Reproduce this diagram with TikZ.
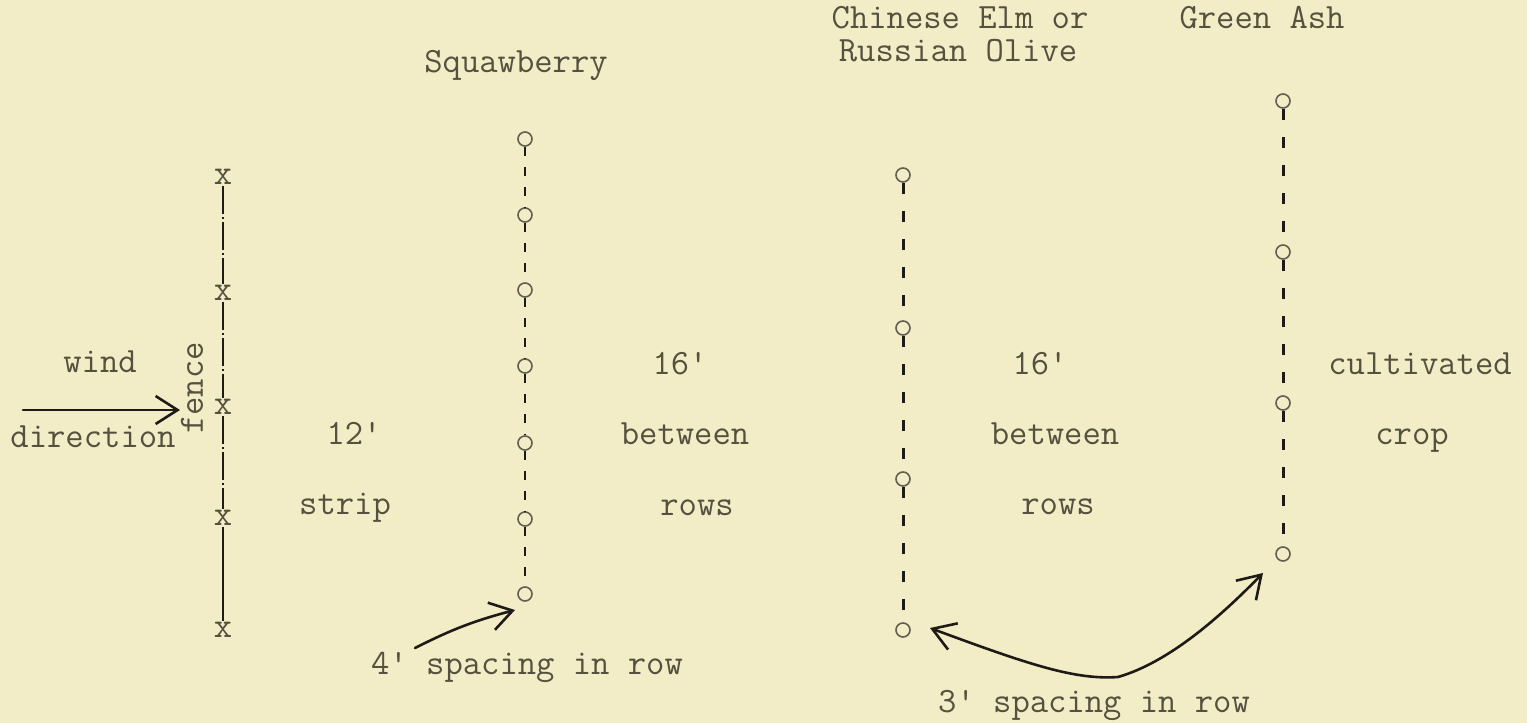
\documentclass[tikz,border=0pt]{standalone}
\usetikzlibrary{arrows.meta}
\definecolor{paper}{HTML}{F3EDC7}
\definecolor{ink}{HTML}{55513F}
\definecolor{ring}{HTML}{625E50}
\definecolor{pen}{HTML}{1E1B16}
\begin{document}
\begin{tikzpicture}[x=0.5pt,y=-0.5pt,
  lbl/.style={font=\ttfamily\fontsize{17.8}{20}\selectfont, text=ink, inner sep=0pt, anchor=base},
  xmark/.style={font=\ttfamily\fontsize{17.8}{20}\selectfont, text=ink, inner sep=0.5pt, anchor=center},
  tree/.style={circle, draw=ring, line width=0.8pt, minimum size=7pt, inner sep=0pt},
  sqdash/.style={draw=pen, line width=1.4pt, dash pattern=on 4.5pt off 5.5pt},
  rowdash/.style={draw=pen, line width=1.5pt, dash pattern=on 5.5pt off 8.5pt},
  fenceline/.style={draw=pen, line width=0.6pt, dash pattern=on 14pt off 1.5pt on 1pt off 1.5pt},
  fencesolid/.style={draw=pen, line width=0.7pt},
  handarrow/.style={draw=pen, line width=1.3pt, line cap=round, arrows={-Straight Barb[length=11pt,width=14pt,line width=1.3pt]}},
  handdouble/.style={draw=pen, line width=1.3pt, line cap=round, arrows={Straight Barb[length=11pt,width=14pt,line width=1.3pt]-Straight Barb[length=11pt,width=14pt,line width=1.3pt]}}
]
\fill[paper] (0,0) rectangle (1527,723);
\useasboundingbox (0,0) rectangle (1527,723);

% titles
\node[lbl] (tsq) at (516,72) {Squawberry};
\node[lbl] (tce) at (960,28) {Chinese Elm or};
\node[lbl] (tro) at (958,61) {Russian Olive};
\node[lbl] (tga) at (1262,28) {Green Ash};

% fence
\foreach \i/\y in {1/177,2/293,3/407,4/518,5/630}{
  \node[xmark] (f\i) at (223,\y) {x};
}
\draw[fenceline] (f1) -- (f2);
\draw[fenceline] (f2) -- (f3);
\draw[fenceline] (f3) -- (f4);
\draw[fencesolid] (f4) -- (f5);
\node[lbl, anchor=center, rotate=90] (fence) at (192,388) {fence};

% wind
\node[lbl] (wind) at (100,372) {wind};
\node[lbl] (dir) at (93,447) {direction};
\coordinate (wtail) at (23,410);
\coordinate (wtip) at (180,410);
\draw[handarrow] (wtail) -- (wtip);

% strip
\node[lbl] (l12) at (354,444) {12'};
\node[lbl] (strip) at (345,514) {strip};

% squawberry row
\foreach \i/\y in {1/139,2/215,3/290,4/366,5/443,6/519,7/594}{
  \node[tree] (s\i) at (525,\y) {};
}
\foreach \a/\b in {1/2,2/3,3/4,4/5,5/6,6/7}{
  \draw[sqdash] (s\a) -- (s\b);
}

% first between
\node[lbl] (b16a) at (680,374) {16'};
\node[lbl] (btwa) at (685,444) {between};
\node[lbl] (rowa) at (697,515) {rows};

% chinese elm row
\foreach \i/\y in {1/175,2/328,3/479,4/630}{
  \node[tree] (c\i) at (903,\y) {};
}
\foreach \a/\b in {1/2,2/3,3/4}{
  \draw[rowdash] (c\a) -- (c\b);
}

% second between
\node[lbl] (b16b) at (1040,374) {16'};
\node[lbl] (btwb) at (1055,444) {between};
\node[lbl] (rowb) at (1058,514) {rows};

% green ash row
\foreach \i/\y in {1/101,2/252,3/403,4/554}{
  \node[tree] (g\i) at (1283,\y) {};
}
\foreach \a/\b in {1/2,2/3,3/4}{
  \draw[rowdash] (g\a) -- (g\b);
}

% crop
\node[lbl] (cult) at (1420,374) {cultivated};
\node[lbl] (crop) at (1412,444) {crop};

% spacing labels
\node[lbl] (sp4) at (527,674) {4' spacing in row};
\node[lbl] (sp3) at (1094,712) {3' spacing in row};

\coordinate (sqtail) at (415,648);
\coordinate (sqtip) at (515,610);
\draw[handarrow] (sqtail) to[bend left=6] (sqtip);

\coordinate (ltip) at (930,628);
\coordinate (rtip) at (1263,573);
\draw[handdouble] (ltip) .. controls (1030,665) and (1075,680) .. (1118,677) .. controls (1170,662) and (1222,615) .. (rtip);
\end{tikzpicture}
\end{document}
